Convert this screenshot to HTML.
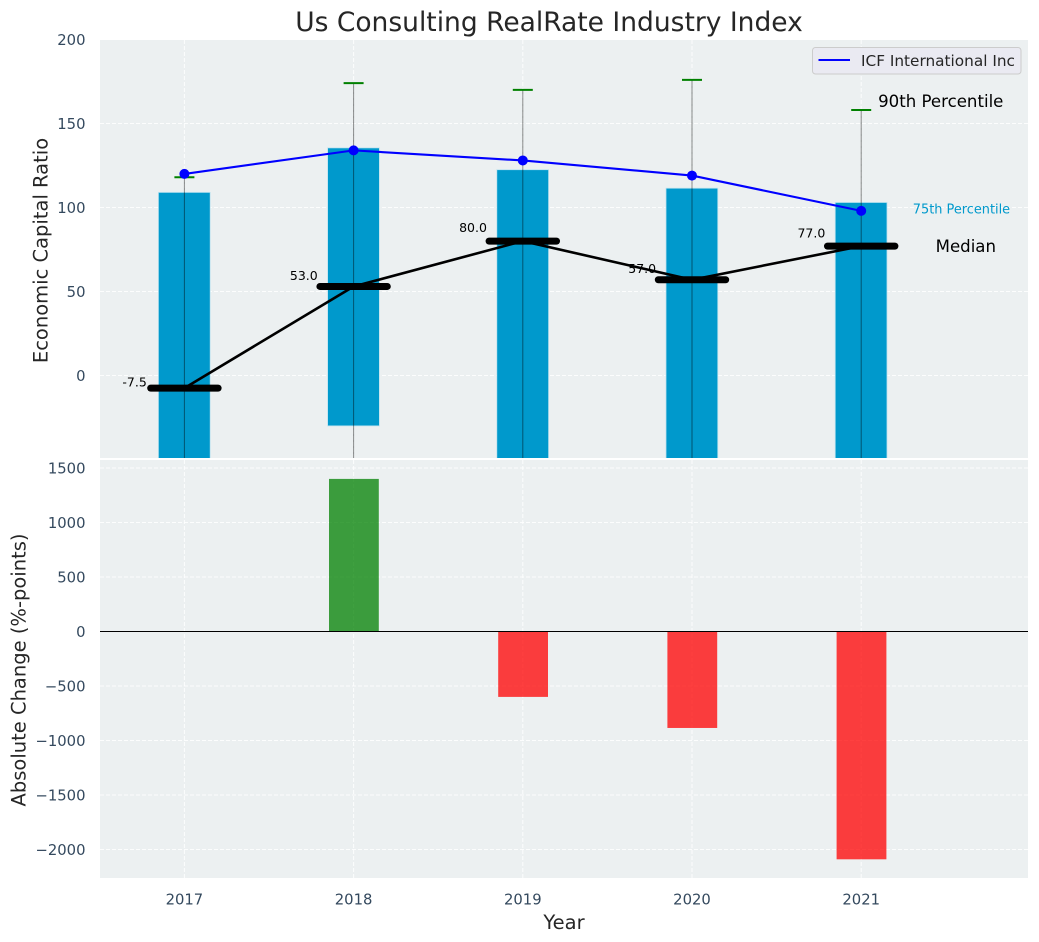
<!DOCTYPE html>
<html>
<head>
<meta charset="utf-8">
<title>Us Consulting RealRate Industry Index</title>
<style>
html,body{margin:0;padding:0;background:#fff;}
svg{display:block;font-family:"DejaVu Sans","Liberation Sans",sans-serif;}
</style>
</head>
<body>
<svg id="chart" xmlns="http://www.w3.org/2000/svg" width="1039" height="942" viewBox="0 0 1039 942"></svg>
<script>
const years = [2017, 2018, 2019, 2020, 2021];
const p25 = [-70, -30, -70, -70, -70];
const p75 = [109, 135.5, 122.5, 111.5, 103];
const p10 = [-120, -110, -120, -120, -120];
const p90 = [118, 174, 170, 176, 158];
const medians = [-7.5, 53, 80, 57, 77];
const company = [120, 134, 128, 119, 98];
const changes = [0, 1400, -600, -885, -2090];
const topTicks = [0, 50, 100, 150, 200];
const bottomTicks = [-2000, -1500, -1000, -500, 0, 500, 1000, 1500];
const medianLabels = ['-7.5', '53.0', '80.0', '57.0', '77.0'];

const NS = 'http://www.w3.org/2000/svg';
const svg = document.getElementById('chart');
const L = 100, R = 1028, T1 = 40, B1 = 458, T2 = 460, B2 = 878;

function x(yr) { return 184.4 + (yr - 2017) * 169.2; }
function y1(v) { return 375.5 - v * 1.68; }
function y2(v) { return 631.5 - v * 0.109; }

function make(tag, attrs, name, parent, txt) {
  const el = document.createElementNS(NS, tag);
  for (const k in attrs) el.setAttribute(k, attrs[k]);
  
  
  if (txt !== undefined) el.textContent = txt;
  (parent || svg).appendChild(el);
  return el;
}

const defs = document.createElementNS(NS, 'defs');
const clip = document.createElementNS(NS, 'clipPath');
clip.setAttribute('id', 'clip-top');
const clipRect = document.createElementNS(NS, 'rect');
clipRect.setAttribute('x', L);
clipRect.setAttribute('y', T1);
clipRect.setAttribute('width', R - L);
clipRect.setAttribute('height', B1 - T1);
clip.appendChild(clipRect);
defs.appendChild(clip);
svg.appendChild(defs);

make('rect', {x: L, y: T1, width: R - L, height: B1 - T1, fill: '#ecf0f1'}, 'top-plot-background');
make('rect', {x: L, y: T2, width: R - L, height: B2 - T2, fill: '#ecf0f1'}, 'bottom-plot-background');

const gridStyle = {stroke: '#ffffff', 'stroke-width': 1, 'stroke-dasharray': '4 2', 'stroke-opacity': 0.85};
const tickColor = '#34495e';

topTicks.forEach(function (t) {
  make('line', Object.assign({x1: L, x2: R, y1: y1(t), y2: y1(t)}, gridStyle), 'top-grid-line-y');
  make('text', {x: 85.5, y: y1(t) + 5.5, 'text-anchor': 'end', 'font-size': 14.8, fill: tickColor}, 'top-y-tick-label', null, String(t));
});
bottomTicks.forEach(function (t) {
  make('line', Object.assign({x1: L, x2: R, y1: y2(t), y2: y2(t)}, gridStyle), 'bottom-grid-line-y');
  make('text', {x: 85.5, y: y2(t) + 5.5, 'text-anchor': 'end', 'font-size': 14.8, fill: tickColor}, 'bottom-y-tick-label', null, String(t).replace('-', '\u2212'));
});
years.forEach(function (yr) {
  make('line', Object.assign({x1: x(yr), x2: x(yr), y1: T1, y2: B1}, gridStyle), 'top-grid-line-x');
  make('line', Object.assign({x1: x(yr), x2: x(yr), y1: T2, y2: B2}, gridStyle), 'bottom-grid-line-x');
  make('text', {x: x(yr), y: 904.5, 'text-anchor': 'middle', 'font-size': 14.8, fill: tickColor}, 'x-tick-label', null, String(yr));
});

const topGroup = make('g', {'clip-path': 'url(#clip-top)'}, 'top-plot-marks');

years.forEach(function (yr, i) {
  make('rect', {x: x(yr) - 26, y: y1(p75[i]), width: 51.8, height: y1(p25[i]) - y1(p75[i]), fill: '#0099cc', stroke: '#bfe3ef', 'stroke-width': 0.8}, 'iqr-bar-' + yr, topGroup);
});
years.forEach(function (yr, i) {
  make('line', {x1: x(yr), x2: x(yr), y1: y1(p90[i]), y2: y1(p10[i]), stroke: '#000000', 'stroke-opacity': 0.45, 'stroke-width': 1}, 'whisker-' + yr, topGroup);
  make('line', {x1: x(yr) - 10, x2: x(yr) + 10, y1: y1(p90[i]), y2: y1(p90[i]), stroke: '#008000', 'stroke-width': 2}, 'p90-cap-' + yr, topGroup);
});

make('polyline', {
  points: years.map(function (yr, i) { return x(yr) + ',' + y1(medians[i]); }).join(' '),
  fill: 'none', stroke: '#000000', 'stroke-width': 2.6
}, 'median-line', topGroup);
years.forEach(function (yr, i) {
  make('line', {x1: x(yr) - 33.7, x2: x(yr) + 33.7, y1: y1(medians[i]), y2: y1(medians[i]), stroke: '#000000', 'stroke-width': 7, 'stroke-linecap': 'round'}, 'median-marker-' + yr, topGroup);
  make('text', {x: x(yr) - 49.8, y: y1(medians[i]) - (5.5 + 0.1 * Math.abs(medians[i])) + 4.5, 'text-anchor': 'middle', 'font-size': 12.5, fill: '#000000'}, 'median-value-' + yr, topGroup, medianLabels[i]);
});

make('polyline', {
  points: years.map(function (yr, i) { return x(yr) + ',' + y1(company[i]); }).join(' '),
  fill: 'none', stroke: '#0000ff', 'stroke-width': 2.1
}, 'company-line', topGroup);
years.forEach(function (yr, i) {
  make('circle', {cx: x(yr), cy: y1(company[i]), r: 5, fill: '#0000ff'}, 'company-point-' + yr, topGroup);
});

const last = years.length - 1;
make('text', {x: x(years[last] + 0.1), y: y1(p90[last] + 5.4) + 6, 'font-size': 16.6, fill: '#000000'}, 'p90-annotation', null, '90th Percentile');
make('text', {x: x(years[last] + 0.305), y: y1(p75[last] - 4) + 4.5, 'font-size': 12.9, fill: '#0099cc'}, 'p75-annotation', null, '75th Percentile');
make('text', {x: x(years[last] + 0.44), y: y1(medians[last]) + 6, 'font-size': 16.6, fill: '#000000'}, 'median-annotation', null, 'Median');

make('rect', {x: 812.5, y: 47.5, width: 208.5, height: 26.5, rx: 3, fill: '#eaeaf2', stroke: '#cccccc', 'stroke-width': 1}, 'legend-box');
make('line', {x1: 818.5, x2: 850, y1: 60, y2: 60, stroke: '#0000ff', 'stroke-width': 2}, 'legend-line');
make('text', {x: 861, y: 66, 'font-size': 15.3, fill: '#262626'}, 'legend-label', null, 'ICF International Inc');

years.forEach(function (yr, i) {
  if (changes[i] === 0) return;
  const top = Math.min(y2(0), y2(changes[i]));
  const h = Math.abs(y2(changes[i]) - y2(0));
  make('rect', {x: x(yr) - 24.6, y: top, width: 49.8, height: h, fill: changes[i] > 0 ? '#008000' : '#ff0000', 'fill-opacity': 0.75}, 'change-bar-' + yr);
});
make('line', {x1: L, x2: R, y1: y2(0), y2: y2(0), stroke: '#000000', 'stroke-width': 1}, 'zero-line');

make('text', {x: 549, y: 31, 'text-anchor': 'middle', 'font-size': 26.5, fill: '#262626'}, 'chart-title', null, 'Us Consulting RealRate Industry Index');
make('text', {x: 564, y: 929, 'text-anchor': 'middle', 'font-size': 19.5, fill: '#262626'}, 'x-axis-title', null, 'Year');
make('text', {x: 0, y: 0, 'text-anchor': 'middle', 'font-size': 19.5, fill: '#262626', transform: 'translate(47.5 250.5) rotate(-90)'}, 'top-y-axis-title', null, 'Economic Capital Ratio');
make('text', {x: 0, y: 0, 'text-anchor': 'middle', 'font-size': 19.5, fill: '#262626', transform: 'translate(25.5 670) rotate(-90)'}, 'bottom-y-axis-title', null, 'Absolute Change (%-points)');
</script>
</body>
</html>
